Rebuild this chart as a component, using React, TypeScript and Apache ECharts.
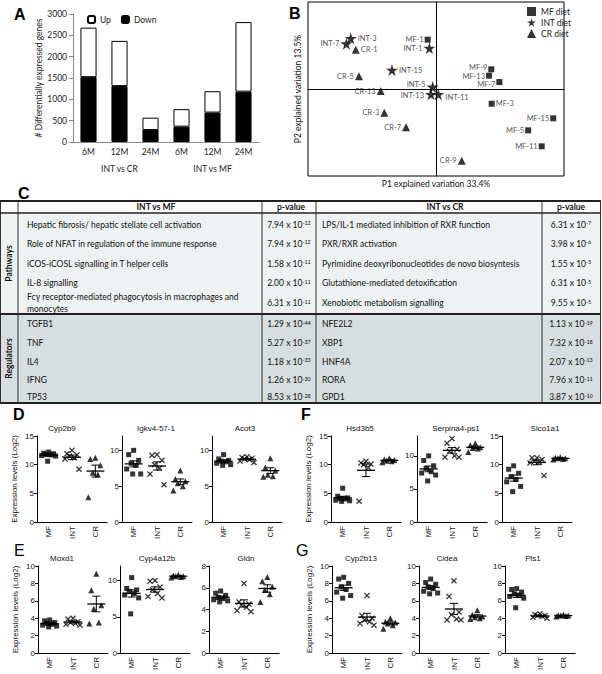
import React, { useEffect, useRef } from 'react';
import * as echarts from 'echarts';

const FONT = 'Lato, "Liberation Sans", "Noto Sans", sans-serif';
const FONT2 = '"Liberation Sans", Arial, sans-serif';

// ---------- Panel A ----------
const aTimes = ['6M', '12M', '24M', '6M', '12M', '24M'];
const aComparisons = ['INT vs CR', 'INT vs MF'];
const aDown = [1520, 1310, 280, 360, 690, 1180];
const aUp = [1160, 1060, 290, 410, 500, 1630];

// ---------- Panel B (name, P1, P2) ----------
const bMF: [string, number, number][] = [
  ['MF-1', -6.5, 56.7], ['MF-9', 43.2, 22.6], ['MF-13', 41.4, 15.3], ['MF-7', 49.5, 8.0],
  ['MF-3', 43.5, -16.9], ['MF-15', 91.6, -33.7], ['MF-5', 72.0, -47.5], ['MF-11', 82.6, -65.9],
];
const bINT: [string, number, number][] = [
  ['INT-1', -5.2, 47.1], ['INT-3', -66.6, 58.3], ['INT-7', -70.0, 52.1], ['INT-15', -34.4, 21.8],
  ['INT-5', -2.6, 2.3], ['INT-13', -3.9, -6.1], ['INT-11', 1.8, -6.1],
];
const bCR: [string, number, number][] = [
  ['CR-1', -62.7, 45.2], ['CR-5', -60.2, 14.6], ['CR-13', -43.2, -2.3], ['CR-3', -40.4, -27.2],
  ['CR-7', -23.4, -44.1], ['CR-9', 20.1, -82.4],
];
const bRightLabels = ['INT-3', 'CR-1', 'INT-15', 'INT-11', 'MF-3'];

// ---------- Panel C ----------
const cPathMF = [
  'Hepatic fibrosis/ hepatic stellate cell activation',
  'Role of NFAT in regulation of the immune response',
  'iCOS-iCOSL signalling in T helper cells',
  'IL-8 signalling',
  'Fc\u03b3 receptor-mediated phagocytosis in macrophages and\nmonocytes',
];
const cPathMFMant = ['7.94', '7.94', '1.58', '2.00', '6.31'];
const cPathMFExp = ['-12', '-12', '-11', '-11', '-11'];
const cPathCR = [
  'LPS/IL-1 mediated inhibition of RXR function',
  'PXR/RXR activation',
  'Pyrimidine deoxyribonucleotides de novo biosyntesis',
  'Glutathione-mediated detoxification',
  'Xenobiotic metabolism signalling',
];
const cPathCRMant = ['6.31', '3.98', '1.55', '6.31', '9.55'];
const cPathCRExp = ['-7', '-6', '-5', '-5', '-5'];
const cRegMF = ['TGFB1', 'TNF', 'IL4', 'IFNG', 'TP53'];
const cRegMFMant = ['1.29', '5.27', '1.18', '1.26', '8.53'];
const cRegMFExp = ['-44', '-37', '-33', '-30', '-28'];
const cRegCR = ['NFE2L2', 'XBP1', 'HNF4A', 'RORA', 'GPD1'];
const cRegCRMant = ['1.13', '7.32', '2.07', '7.96', '3.87'];
const cRegCRExp = ['-19', '-18', '-13', '-11', '-10'];

// ---------- Panels D-G (MF, INT, CR) ----------
const dotGroups = ['MF', 'INT', 'CR'];
const cyp2b9 = [[12.2, 12.0, 11.9, 11.8, 11.7, 11.6, 11.5, 10.6], [12.5, 11.9, 11.7, 11.5, 11.2, 11.0, 9.2], [11.2, 11.0, 9.9, 8.6, 8.3, 4.3]];
const igkv4571 = [[10.0, 9.4, 8.6, 8.2, 7.9, 7.4, 6.7, 6.7], [9.4, 9.3, 8.6, 8.0, 7.5, 6.7, 5.2], [7.2, 6.0, 5.7, 5.4, 5.0, 4.4]];
const acot3 = [[9.4, 8.8, 8.6, 8.5, 8.4, 8.2, 8.0, 7.9], [9.1, 9.0, 8.9, 8.8, 8.7, 8.5, 8.3], [8.9, 7.6, 7.2, 6.6, 6.4, 6.3]];
const hsd3b5 = [[5.9, 4.5, 4.2, 4.1, 4.0, 3.8, 3.7, 3.6], [10.6, 10.3, 10.1, 10.0, 9.5, 3.6], [11.1, 10.9, 10.8, 10.7, 10.6, 10.4]];
const serpina4ps1 = [[10.0, 9.3, 8.5, 8.1, 7.6, 7.4, 7.1, 6.2], [12.6, 11.9, 11.0, 10.7, 10.0, 9.8, 9.8], [11.9, 11.6, 11.3, 11.2, 11.1, 10.6]];
const slco1a1 = [[9.8, 9.2, 8.5, 7.9, 7.4, 7.0, 6.2, 5.3], [11.2, 11.2, 10.9, 10.6, 10.4, 10.3, 8.1], [11.3, 11.2, 11.1, 11.1, 11.0, 10.9]];
const moxd1 = [[3.8, 3.7, 3.5, 3.4, 3.3, 3.2, 3.1, 3.0], [4.0, 3.9, 3.6, 3.5, 3.4, 3.3, 3.2], [9.1, 7.2, 5.5, 5.1, 3.5, 3.4]];
const cyp4a12b = [[10.4, 8.9, 8.7, 8.5, 8.2, 8.0, 7.6, 5.4], [10.0, 9.9, 9.1, 8.7, 8.2, 7.8, 7.6], [10.8, 10.7, 10.6, 10.6, 10.5, 10.4]];
const gldn = [[5.7, 5.5, 5.3, 5.1, 5.0, 4.9, 4.8, 4.7], [6.4, 4.7, 4.5, 4.4, 4.2, 3.9, 3.8], [7.0, 6.6, 6.1, 5.8, 5.4, 4.7]];
const cyp2b13 = [[8.7, 8.5, 8.0, 7.6, 7.3, 7.0, 6.6, 6.3], [6.6, 4.3, 4.0, 3.8, 3.6, 3.4, 3.2], [4.0, 3.6, 3.5, 3.4, 3.2, 2.8]];
const cidea = [[8.5, 8.1, 7.9, 7.6, 7.4, 7.1, 6.9, 6.8], [8.3, 6.5, 4.7, 4.4, 3.9, 3.8, 3.8], [4.9, 4.4, 4.2, 4.1, 4.0, 3.9]];
const pls1 = [[7.4, 7.3, 7.0, 6.8, 6.6, 6.5, 6.3, 5.2], [4.5, 4.4, 4.3, 4.3, 4.2, 4.1, 4.0], [4.4, 4.35, 4.3, 4.3, 4.25, 4.2]];

const dotPanels = [
  { title: 'Cyp2b9', values: cyp2b9, max: 15, ticks: [0, 5, 10, 15] },
  { title: 'Igkv4-57-1', values: igkv4571, max: 12, ticks: [0, 5, 10] },
  { title: 'Acot3', values: acot3, max: 12, ticks: [0, 5, 10] },
  { title: 'Hsd3b5', values: hsd3b5, max: 15, ticks: [0, 5, 10, 15] },
  { title: 'Serpina4-ps1', values: serpina4ps1, max: 13, ticks: [0, 5, 10] },
  { title: 'Slco1a1', values: slco1a1, max: 15, ticks: [0, 5, 10, 15] },
  { title: 'Moxd1', values: moxd1, max: 10, ticks: [0, 2, 4, 6, 8, 10] },
  { title: 'Cyp4a12b', values: cyp4a12b, max: 12, ticks: [0, 5, 10] },
  { title: 'Gldn', values: gldn, max: 8, ticks: [0, 2, 4, 6, 8] },
  { title: 'Cyp2b13', values: cyp2b13, max: 10, ticks: [0, 2, 4, 6, 8, 10] },
  { title: 'Cidea', values: cidea, max: 10, ticks: [0, 2, 4, 6, 8, 10] },
  { title: 'Pls1', values: pls1, max: 10, ticks: [0, 2, 4, 6, 8, 10] },
];

// layout of the dot panels (pixels)
const dotLayout = [
  { left: 37, top: 436, h: 86, tx: 62, yName: true },
  { left: 122, top: 436, h: 86, tx: 156 },
  { left: 212, top: 436, h: 86, tx: 245 },
  { left: 331, top: 436, h: 86, tx: 360, yName: true },
  { left: 417, top: 436, h: 86, tx: 456 },
  { left: 502, top: 436, h: 86, tx: 545 },
  { left: 38, top: 566, h: 87, tx: 62, yName: true },
  { left: 120, top: 566, h: 87, tx: 157 },
  { left: 209, top: 566, h: 87, tx: 246 },
  { left: 332, top: 566, h: 87, tx: 361, yName: true },
  { left: 419, top: 566, h: 87, tx: 447 },
  { left: 505, top: 566, h: 87, tx: 533 },
];

// small label nudges in panel B (pixels) to keep crowded labels apart
const bLabelNudge: Record<string, number[]> = {
  'INT-11': [0, 3], 'MF-9': [0, -2], 'MF-13': [0, 0.5], 'MF-7': [0, 2], 'INT-5': [0, -2.5], 'INT-13': [0, 1.5],
};

const STAR = 'path://M50,0 L61,35 L98,35 L68,57 L79,91 L50,70 L21,91 L32,57 L2,35 L39,35 Z';
const CROSS = 'path://M0,1.5 L1.5,0 L5,3.5 L8.5,0 L10,1.5 L6.5,5 L10,8.5 L8.5,10 L5,6.5 L1.5,10 L0,8.5 L3.5,5 Z';
const jitter = [0, -5, 5, -2.5, 2.5, -7, 7, -1];

function stats(arr: number[]) {
  const n = arr.length;
  const m = arr.reduce((a, b) => a + b, 0) / n;
  const sd = Math.sqrt(arr.reduce((a, b) => a + (b - m) * (b - m), 0) / (n - 1));
  return [m, sd / Math.sqrt(n)];
}

function meanSemRender(params: any, api: any) {
  const c = api.value(0), m = api.value(1), s = api.value(2);
  const p = api.coord([c, m]);
  const hi = api.coord([c, m + s]);
  const lo = api.coord([c, m - s]);
  const st = { stroke: '#000', lineWidth: 1 };
  return {
    type: 'group',
    children: [
      { type: 'line', shape: { x1: p[0] - 9, y1: p[1], x2: p[0] + 9, y2: p[1] }, style: { stroke: '#000', lineWidth: 1.3 } },
      { type: 'line', shape: { x1: p[0], y1: hi[1], x2: p[0], y2: lo[1] }, style: st },
      { type: 'line', shape: { x1: p[0] - 4, y1: hi[1], x2: p[0] + 4, y2: hi[1] }, style: st },
      { type: 'line', shape: { x1: p[0] - 4, y1: lo[1], x2: p[0] + 4, y2: lo[1] }, style: st },
    ],
  };
}

function txt(x: number, y: number, text: string, o: any = {}) {
  return {
    type: 'text', x, y, rotation: o.rotation || 0, silent: true,
    style: {
      text, fill: o.fill || '#111', fontSize: o.fontSize || 8.5, fontFamily: o.fontFamily || FONT,
      fontWeight: o.fontWeight || 'normal', align: o.align || 'left', verticalAlign: o.verticalAlign || 'middle',
      textAlign: o.align || 'left', textVerticalAlign: o.verticalAlign || 'middle', lineHeight: o.lineHeight,
    },
  };
}

function pval(x: number, y: number, mant: string, exp: string) {
  return {
    type: 'text', x, y, silent: true,
    style: {
      text: `{m|${mant} x 10}{e|${exp}}`,
      align: 'center', verticalAlign: 'middle', textAlign: 'center', textVerticalAlign: 'middle',
      rich: {
        m: { fontSize: 8.5, fontFamily: FONT, fill: '#111' },
        e: { fontSize: 5.5, fontFamily: FONT, fill: '#111', verticalAlign: 'top' },
      },
    },
  };
}

function hline(x1: number, x2: number, y: number, w: number, c = '#222') {
  return { type: 'line', silent: true, shape: { x1, y1: y, x2, y2: y }, style: { stroke: c, lineWidth: w } };
}
function vline(x: number, y1: number, y2: number, w: number, c = '#333') {
  return { type: 'line', silent: true, shape: { x1: x, y1, x2: x, y2 }, style: { stroke: c, lineWidth: w } };
}

function buildTable() {
  const top = 201, head = 213, sep = 314, bottom = 403;
  const cols = [18, 262, 316, 542];
  const pathY = [224.5, 243.5, 263.5, 283, 303];
  const regY = [324, 343, 361.5, 380, 397];
  const els: any[] = [];
  els.push({ type: 'rect', silent: true, shape: { x: 0, y: top, width: 601, height: head - top }, style: { fill: '#ffffff' } });
  els.push({ type: 'rect', silent: true, shape: { x: 0, y: head, width: 601, height: sep - head }, style: { fill: '#eef2f3' } });
  els.push({ type: 'rect', silent: true, shape: { x: 0, y: sep, width: 601, height: bottom - sep }, style: { fill: '#d7dedf' } });
  cols.forEach((c) => els.push(vline(c, top, bottom, 1)));
  els.push(vline(0.5, top, bottom, 1));
  els.push(vline(600.5, top, bottom, 1));
  els.push(hline(0, 601, top, 2));
  els.push(hline(0, 601, head, 1.5));
  els.push(hline(0, 601, sep, 2));
  els.push(hline(0, 601, bottom, 2));
  els.push(txt(156, 207, 'INT vs MF', { fontWeight: 'bold', align: 'center' }));
  els.push(txt(291, 207, 'p-value', { fontWeight: 'bold', align: 'center' }));
  els.push(txt(445, 207, 'INT vs CR', { fontWeight: 'bold', align: 'center' }));
  els.push(txt(571, 207, 'p-value', { fontWeight: 'bold', align: 'center' }));
  els.push(txt(9, (head + sep) / 2, 'Pathways', { fontWeight: 'bold', align: 'center', rotation: Math.PI / 2 }));
  els.push(txt(9, (sep + bottom) / 2, 'Regulators', { fontWeight: 'bold', align: 'center', rotation: Math.PI / 2 }));
  cPathMF.forEach((t, i) => {
    els.push(txt(27, pathY[i], t, { lineHeight: 11.5 }));
    els.push(pval(289, pathY[i], cPathMFMant[i], cPathMFExp[i]));
    els.push(txt(322, pathY[i], cPathCR[i]));
    els.push(pval(571, pathY[i], cPathCRMant[i], cPathCRExp[i]));
  });
  cRegMF.forEach((t, i) => {
    els.push(txt(27, regY[i], t));
    els.push(pval(289, regY[i], cRegMFMant[i], cRegMFExp[i]));
    els.push(txt(322, regY[i], cRegCR[i]));
    els.push(pval(571, regY[i], cRegCRMant[i], cRegCRExp[i]));
  });
  return els;
}

function buildOption() {
  const grid: any[] = [
    { left: 73, top: 14, width: 186, height: 128 },
    { left: 308, top: 2, width: 256, height: 174, show: true, borderColor: '#000', borderWidth: 1, backgroundColor: 'transparent' },
  ];
  const xAxis: any[] = [
    {
      gridIndex: 0, type: 'category', data: aTimes, position: 'bottom',
      axisLine: { lineStyle: { color: '#888' } },
      axisTick: { length: 16, interval: 0, lineStyle: { color: '#888' } },
      axisLabel: { fontSize: 8.5, color: '#222', margin: 5, fontFamily: FONT, interval: 0 },
    },
    {
      gridIndex: 0, type: 'category', data: aComparisons, position: 'bottom',
      axisLine: { show: false },
      axisTick: { length: 34, interval: 0, lineStyle: { color: '#888' } },
      axisLabel: { fontSize: 8.5, color: '#222', margin: 22, fontFamily: FONT, interval: 0 },
    },
    {
      gridIndex: 1, type: 'value', min: -100, max: 100,
      axisLine: { onZero: true, lineStyle: { color: '#000', width: 1 } },
      axisTick: { show: false }, axisLabel: { show: false }, splitLine: { show: false },
    },
  ];
  const yAxis: any[] = [
    {
      gridIndex: 0, type: 'value', min: 0, max: 3000, interval: 500,
      axisLine: { show: true, lineStyle: { color: '#888' } },
      axisTick: { show: true, length: 4, lineStyle: { color: '#888' } },
      axisLabel: { fontSize: 8.5, color: '#222', margin: 6, fontFamily: FONT, formatter: (v: number) => String(v) },
      splitLine: { show: false },
      name: '# Differentially expressed genes', nameLocation: 'middle', nameGap: 29,
      nameTextStyle: { fontSize: 8.5, color: '#222', fontFamily: FONT },
    },
    {
      gridIndex: 1, type: 'value', min: -100, max: 100,
      axisLine: { onZero: true, lineStyle: { color: '#000', width: 1 } },
      axisTick: { show: false }, axisLabel: { show: false }, splitLine: { show: false },
    },
  ];
  const series: any[] = [
    {
      type: 'bar', name: 'Down', stack: 'a', xAxisIndex: 0, yAxisIndex: 0, data: aDown, barWidth: '52%',
      itemStyle: { color: '#000', borderColor: '#000', borderWidth: 1 },
    },
    {
      type: 'bar', name: 'Up', stack: 'a', xAxisIndex: 0, yAxisIndex: 0, data: aUp, barWidth: '52%',
      itemStyle: { color: '#fff', borderColor: '#000', borderWidth: 1 },
    },
  ];
  const bSeries: [string, [string, number, number][], string, number][] = [
    ['MF diet', bMF, 'rect', 6],
    ['INT diet', bINT, STAR, 12],
    ['CR diet', bCR, 'triangle', 8],
  ];
  bSeries.forEach(([name, pts, sym, size]) => {
    series.push({
      type: 'scatter', name, xAxisIndex: 2, yAxisIndex: 1, symbol: sym, symbolSize: size,
      itemStyle: { color: '#000' },
      label: { show: true, formatter: '{b}', fontSize: 7.5, color: '#222', fontFamily: FONT, distance: 1 },
      data: pts.map(([n, x, y]) => ({
        name: n, value: [x, y],
        label: {
          position: bRightLabels.includes(n) ? 'right' : 'left',
          offset: bLabelNudge[n] || [0, 0],
        },
      })),
    });
  });

  const graphic: any[] = [
    txt(14, 14, 'A', { fontSize: 16, fontWeight: 'bold', fontFamily: FONT2, fill: '#000' }),
    txt(289, 13, 'B', { fontSize: 16, fontWeight: 'bold', fontFamily: FONT2, fill: '#000' }),
    txt(18, 193, 'C', { fontSize: 16, fontWeight: 'bold', fontFamily: FONT2, fill: '#000' }),
    txt(13, 414, 'D', { fontSize: 16, fontWeight: 'bold', fontFamily: FONT2, fill: '#000' }),
    txt(14, 550, 'E', { fontSize: 16, fontFamily: FONT2, fill: '#000' }),
    txt(301, 414, 'F', { fontSize: 16, fontWeight: 'bold', fontFamily: FONT2, fill: '#000' }),
    txt(296, 550, 'G', { fontSize: 16, fontFamily: FONT2, fill: '#000' }),
    txt(436, 184, 'P1 explained variation 33.4%', { align: 'center', fontSize: 8.5 }),
    txt(298, 89, 'P2 explained variation 13.5%', { align: 'center', fontSize: 8.5, rotation: Math.PI / 2 }),
    ...buildTable(),
  ];

  const symbols = ['rect', CROSS, 'triangle'];
  const sizes = [5, 6, 6];
  dotPanels.forEach((p, i) => {
    const L = dotLayout[i];
    const gi = grid.length;
    grid.push({ left: L.left, top: L.top, width: 70, height: L.h });
    const xi = xAxis.length, yi = yAxis.length;
    xAxis.push({
      gridIndex: gi, type: 'category', data: dotGroups, boundaryGap: true,
      axisLine: { lineStyle: { color: '#000', width: 1 } },
      axisTick: { alignWithLabel: true, interval: 0, length: 3, lineStyle: { color: '#000' } },
      axisLabel: { rotate: 90, fontSize: 8, margin: 4, color: '#111', fontFamily: FONT2, interval: 0 },
    });
    yAxis.push({
      gridIndex: gi, type: 'value', min: 0, max: p.max,
      axisLine: { show: true, lineStyle: { color: '#000', width: 1 } },
      axisTick: { show: true, length: 3, customValues: p.ticks, lineStyle: { color: '#000' } },
      axisLabel: { fontSize: 8, margin: 3, color: '#111', fontFamily: FONT2, customValues: p.ticks },
      splitLine: { show: false },
      name: L.yName ? 'Expression levels (Log2)' : '', nameLocation: 'middle', nameGap: 19,
      nameTextStyle: { fontSize: 8, color: '#111', fontFamily: FONT2 },
    });
    p.values.forEach((vals, g) => {
      series.push({
        type: 'scatter', name: `${p.title}-${dotGroups[g]}`, xAxisIndex: xi, yAxisIndex: yi,
        symbol: symbols[g], symbolSize: sizes[g], itemStyle: { color: '#000' }, z: 3,
        data: vals.map((v, j) => ({ value: [g, v], symbolOffset: [jitter[j % jitter.length], 0] })),
      });
    });
    series.push({
      type: 'custom', name: `${p.title}-mean`, xAxisIndex: xi, yAxisIndex: yi, z: 5, silent: true, clip: false,
      renderItem: meanSemRender, encode: { x: 0, y: 1 },
      data: p.values.map((vals, g) => { const [m, s] = stats(vals); return [g, m, s]; }),
    });
    graphic.push(txt(L.tx, L.top - 8, p.title, { align: 'center', fontSize: 8, fontFamily: FONT2 }));
  });

  return {
    animation: false,
    backgroundColor: '#fff',
    textStyle: { fontFamily: FONT },
    grid, xAxis, yAxis, series, graphic,
    legend: [
      {
        data: ['Up', 'Down'], left: 82, top: 10, itemWidth: 7, itemHeight: 7, itemGap: 10,
        textStyle: { fontSize: 8.5, color: '#222', fontFamily: FONT }, selectedMode: false,
      },
      {
        data: ['MF diet', 'INT diet', 'CR diet'], left: 522, top: 2, orient: 'vertical', itemWidth: 9, itemHeight: 9,
        itemGap: 2, textStyle: { fontSize: 8.5, color: '#222', fontFamily: FONT }, selectedMode: false,
      },
    ],
  };
}

export default function App() {
  const ref = useRef<HTMLDivElement>(null);
  useEffect(() => {
    const chart = echarts.init(ref.current!, null, { renderer: 'svg' });
    chart.setOption(buildOption() as any);
    return () => chart.dispose();
  }, []);
  return (
    <div
      ref={ref}
      style={{ position: 'fixed', left: 0, top: 0, width: 602, height: 674, background: '#fff' }}
    />
  );
}
